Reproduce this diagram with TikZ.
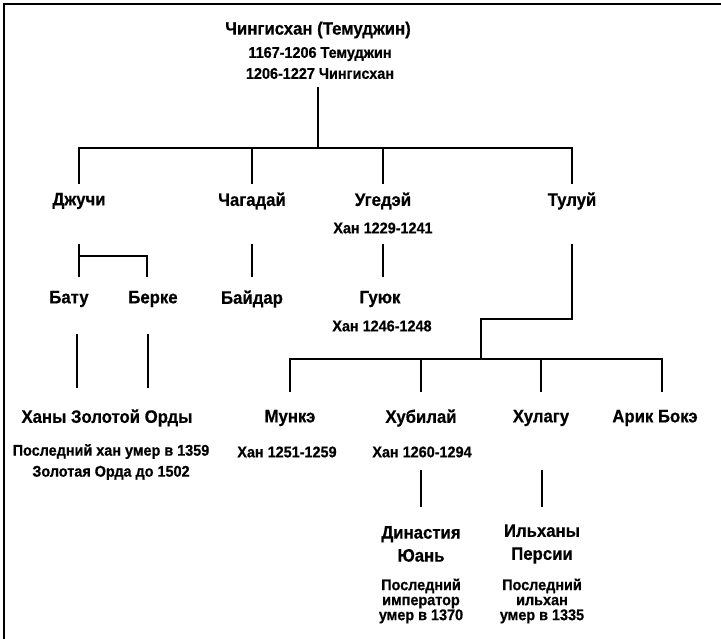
\documentclass[tikz,border=0pt]{standalone}
\usepackage{fontspec}
\setmainfont{Liberation Sans}[FakeStretch=0.93, BoldFeatures={FakeBold=0.6}]
\usepackage{tikz}

\begin{document}
\begin{tikzpicture}[x=1pt,y=-1pt,
  person/.style={font=\bfseries\fontsize{18}{23}\selectfont, align=center, inner sep=0pt},
  dates/.style={font=\bfseries\fontsize{15.5}{21}\selectfont, align=center, inner sep=0pt},
  notes/.style={font=\bfseries\fontsize{15.5}{15}\selectfont, align=center, inner sep=0pt},
  link/.style={line width=2pt},
  thinlink/.style={line width=1.5pt}]
\useasboundingbox (0,0) rectangle (721,639);
% frame, left and top only
\draw[line width=2pt] (4,639) -- (4,4) -- (721,4);

% generation 1
\node[person] (root) at (318,30) {Чингисхан (Темуджин)};
\node[dates] (rootD) at (320,63) {1167-1206 Темуджин\\1206-1227 Чингисхан};

% sons
\node[person] (dzhuchi) at (79,201) {Джучи};
\node[person] (chagadai) at (252,201) {Чагадай};
\node[person] (ugedei) at (383,201) {Угедэй};
\node[dates] (ugedeiD) at (383,228) {Хан 1229-1241};
\node[person] (tului) at (572,201) {Тулуй};

% grandsons
\node[person] (batu) at (69,299) {Бату};
\node[person] (berke) at (153,299) {Берке};
\node[person] (baidar) at (252,299) {Байдар};
\node[person] (guyuk) at (380,299) {Гуюк};
\node[dates] (guyukD) at (382,326) {Хан 1246-1248};

\node[person] (golden) at (107,418) {Ханы Золотой Орды};
\node[dates] (goldenD) at (111,462) {Последний хан умер в 1359\\Золотая Орда до 1502};
\node[person] (munke) at (290,418) {Мункэ};
\node[dates] (munkeD) at (287,452) {Хан 1251-1259};
\node[person] (khubilai) at (421,418) {Хубилай};
\node[dates] (khubilaiD) at (422,452) {Хан 1260-1294};
\node[person] (hulagu) at (541,418) {Хулагу};
\node[person] (arik) at (655,418) {Арик Бокэ};

% dynasties
\node[person] (yuan) at (421,544) {Династия\\Юань};
\node[notes] (yuanD) at (421,601) {Последний\\император\\умер в 1370};
\node[person] (ilkhan) at (542,544) {Ильханы\\Персии};
\node[notes] (ilkhanD) at (542,601) {Последний\\ильхан\\умер в 1335};

% free ends
\coordinate (batuOut) at (77,334);
\coordinate (berkeOut) at (148,334);
\coordinate (berkeIn) at (147,277);
\coordinate (tuluiStep) at (481,319);
\coordinate (arikIn) at (662,392);

% lines
\draw[link] (root.south |- 0,87) -- (root.south |- 0,148);
\draw[link] (dzhuchi.north |- 0,184) |- (tului.north |- 0,148) -- (tului.north |- 0,184);
\draw[link] (chagadai.north |- 0,148) -- (chagadai.north |- 0,184);
\draw[link] (ugedei.north |- 0,148) -- (ugedei.north |- 0,184);

\draw[thinlink] (dzhuchi.south |- 0,244) -- (dzhuchi.south |- 0,277);
\draw[thinlink] (dzhuchi.south |- 0,256) -| (berkeIn);
\draw[thinlink] (chagadai.south |- 0,244) -- (chagadai.south |- 0,277);
\draw[thinlink] (ugedei.south |- 0,244) -- (ugedei.south |- 0,277);
\draw[thinlink] (batuOut) -- ++(0,54);
\draw[thinlink] (berkeOut) -- ++(0,54);

\draw[link] (tului.south |- 0,244) |- (tuluiStep) -- (tuluiStep |- 0,359);
\draw[link] (munke.north |- 0,392) |- (arikIn |- 0,359) -- (arikIn);
\draw[link] (khubilai.north |- 0,359) -- (khubilai.north |- 0,392);
\draw[link] (hulagu.north |- 0,359) -- (hulagu.north |- 0,392);

\draw[link] (yuan.north |- 0,470) -- (yuan.north |- 0,507);
\draw[link] (ilkhan.north |- 0,470) -- (ilkhan.north |- 0,507);
\end{tikzpicture}
\end{document}
